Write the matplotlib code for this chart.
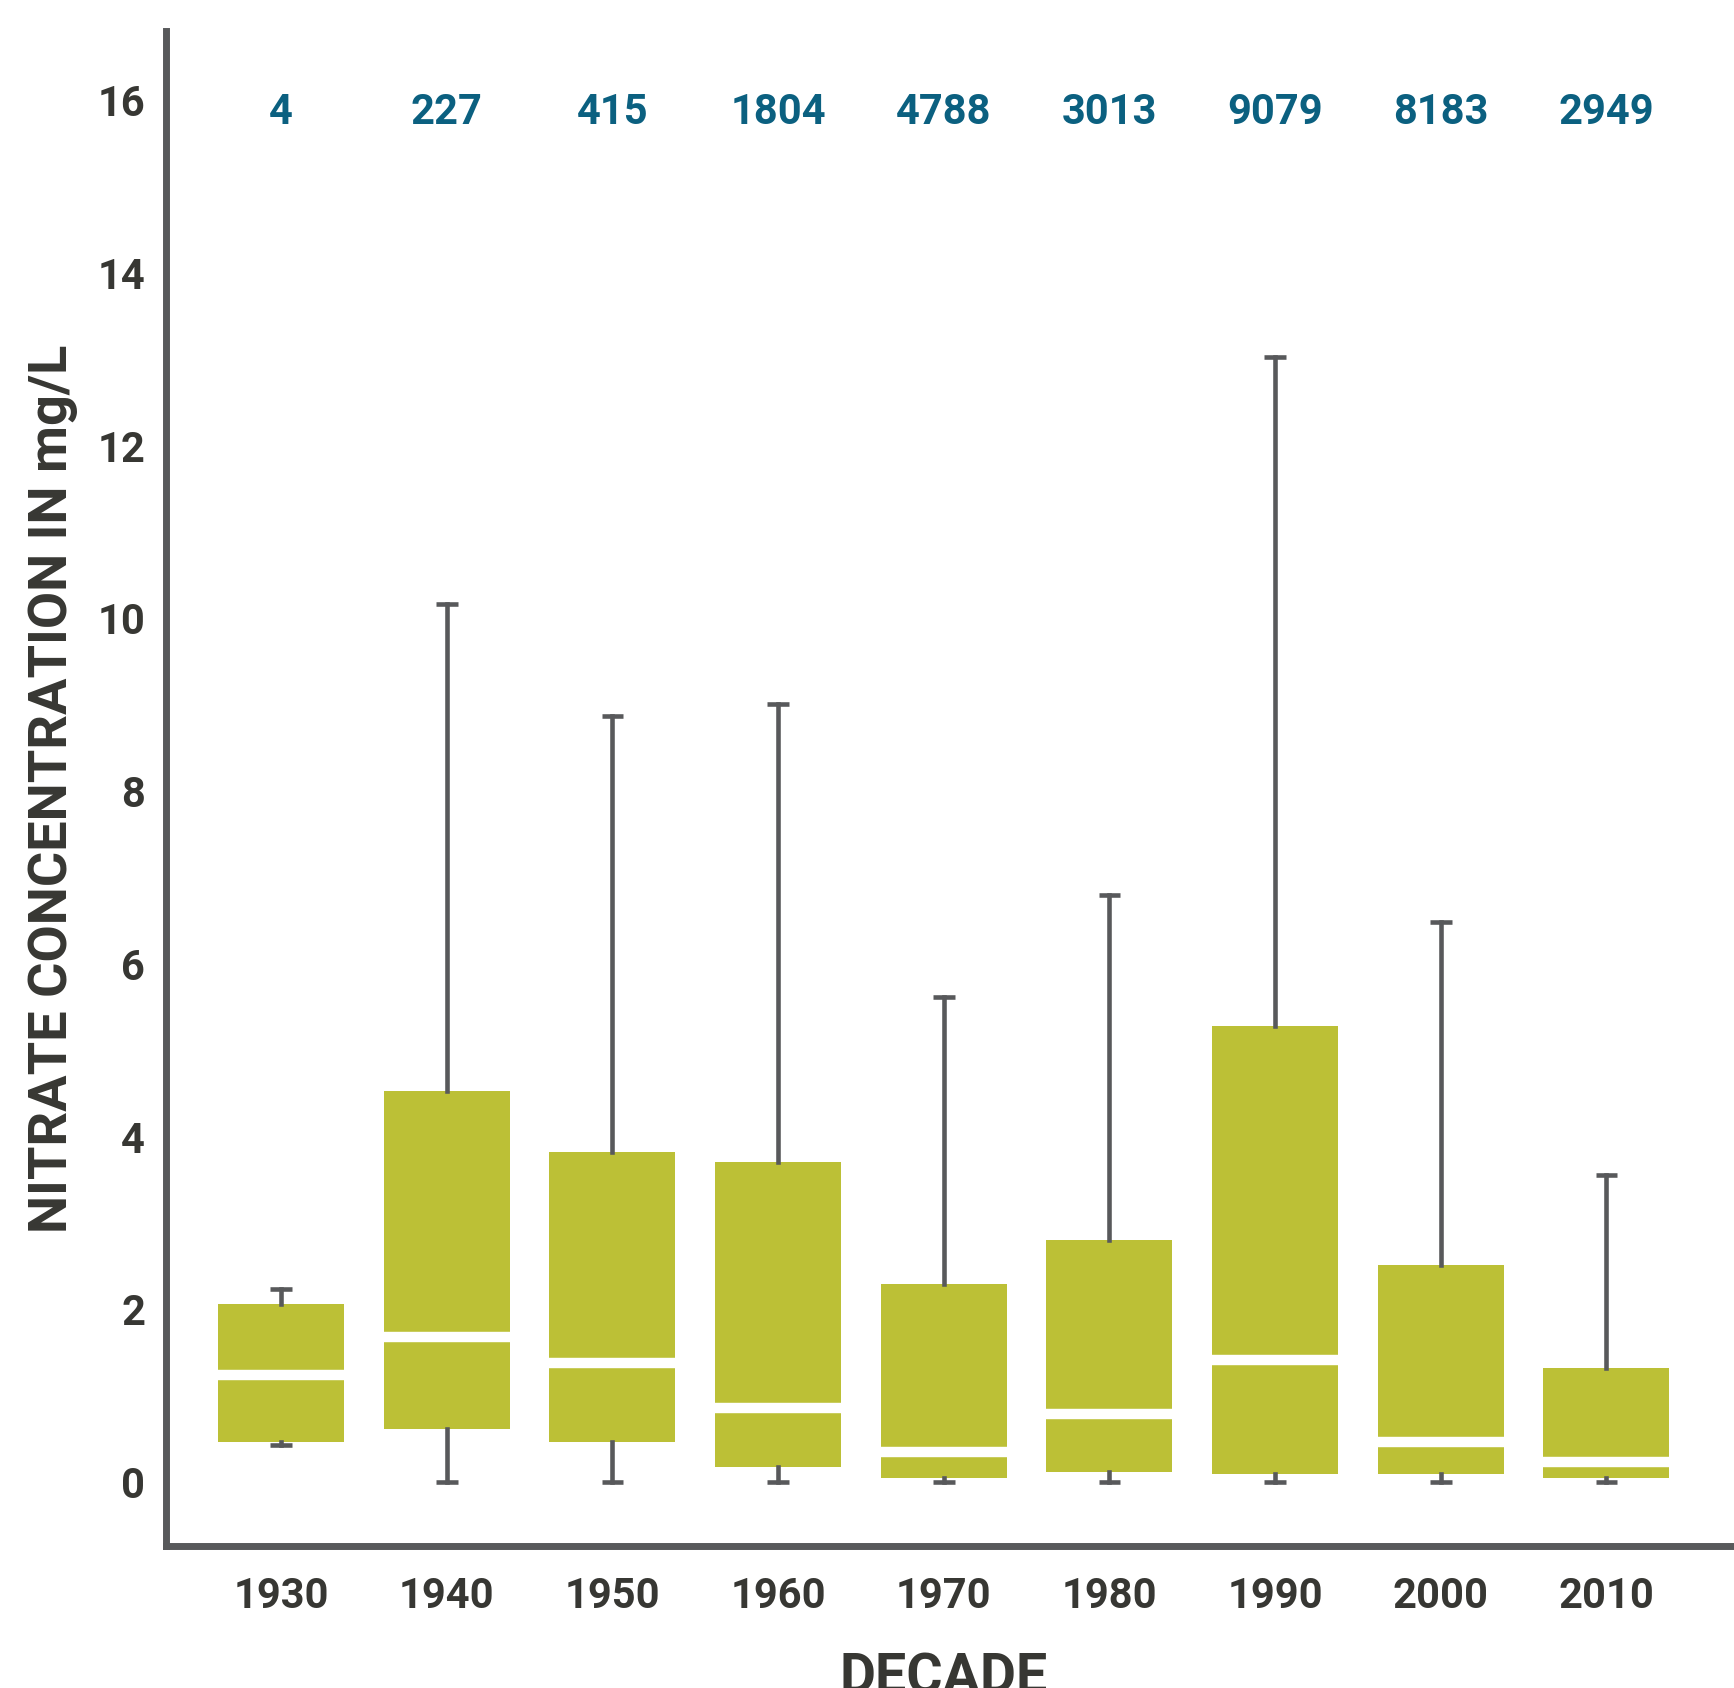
import numpy as np
import matplotlib
matplotlib.use('Agg')
import matplotlib.pyplot as plt

plt.rcParams['font.family'] = ['Roboto', 'DejaVu Sans']
plt.rcParams['font.weight'] = 'bold'

# Данные: десятилетия, число проб и статистика ящиков (мг/л)
decades = ['1930', '1940', '1950', '1960', '1970', '1980', '1990', '2000', '2010']
counts = ['4', '227', '415', '1804', '4788', '3013', '9079', '8183', '2949']
q1 = [0.46, 0.61, 0.46, 0.18, 0.05, 0.12, 0.10, 0.10, 0.05]
median = [1.24, 1.68, 1.38, 0.86, 0.35, 0.79, 1.42, 0.47, 0.23]
q3 = [2.06, 4.53, 3.82, 3.71, 2.29, 2.80, 5.28, 2.51, 1.32]
whis_lo = [0.43, 0.0, 0.0, 0.0, 0.0, 0.0, 0.0, 0.0, 0.0]
whis_hi = [2.24, 10.17, 8.87, 9.01, 5.62, 6.80, 13.02, 6.49, 3.56]

green = '#bcc036'
grey = '#58595b'
text_col = '#373733'
blue = '#0b6080'

fig = plt.figure(figsize=(17.34, 16.88), dpi=100)
ax = fig.add_axes([0.0957, 0.0839, 0.9043, 0.8978])

stats = []
for i in range(len(decades)):
    stats.append({'med': median[i], 'q1': q1[i], 'q3': q3[i],
                  'whislo': whis_lo[i], 'whishi': whis_hi[i],
                  'fliers': [], 'label': decades[i]})

pos = np.arange(len(decades))
ax.bxp(stats, positions=pos, widths=0.76, patch_artist=True, showfliers=False,
       capwidths=0.13,
       boxprops=dict(facecolor=green, edgecolor='none', linewidth=0),
       medianprops=dict(color='white', linewidth=7.5, solid_capstyle='butt'),
       whiskerprops=dict(color=grey, linewidth=3.3),
       capprops=dict(color=grey, linewidth=3.3, solid_capstyle='butt'))

# Число проб над каждым ящиком
for i in range(len(decades)):
    ax.text(pos[i], 15.85, counts[i], ha='center', va='center',
            fontsize=30, fontweight='bold', color=blue)

# Пределы и оси
ax.set_xlim(-0.695, 8.77)
ax.set_ylim(-0.743, 16.8)
ax.set_yticks(range(0, 17, 2))
ax.set_xticks(pos)
ax.set_xticklabels(decades)
ax.tick_params(axis='both', length=0, labelsize=30, labelcolor=text_col)
ax.tick_params(axis='x', pad=21)
ax.tick_params(axis='y', pad=15)

for s in ['top', 'right']:
    ax.spines[s].set_visible(False)
for s in ['left', 'bottom']:
    ax.spines[s].set_color(grey)
    ax.spines[s].set_linewidth(5)

ax.set_ylabel('NITRATE CONCENTRATION IN mg/L', fontsize=39, fontweight='bold',
              color=text_col, labelpad=14)
fig.text(0.544, 0.021, 'DECADE', ha='center', va='top', fontsize=40,
         fontweight='bold', color=text_col)

fig.savefig('out.png', dpi=100)
